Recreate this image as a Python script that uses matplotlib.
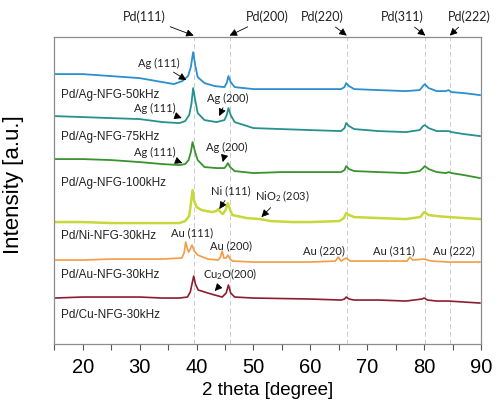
import matplotlib
matplotlib.use("Agg")
import matplotlib.pyplot as plt

# XRD patterns (2 theta in degree, offset intensity in a.u.)
ag50_x = [15, 20, 25, 30, 34, 36, 37.5, 38.5, 39.0, 39.4, 39.8, 40.2, 41.4, 43.2, 44.9, 45.3, 45.6,
          46.0, 46.7, 50, 55, 60, 65.4, 66.0, 66.3, 66.8, 67.7, 72, 76.8, 79.2, 79.8, 80.1, 80.8,
          82.2, 83.8, 84.3, 84.8, 87, 89.8]
ag50_y = [270, 270, 268, 266, 262, 260, 263, 268, 277, 292, 278, 267, 261, 258, 257, 261, 268,
          262, 257, 255, 255, 255, 255, 257, 261, 258, 255, 254, 253, 254, 258, 260, 256,
          253, 253, 254, 252, 251, 249]

ag75_x = [15, 20, 25, 30, 34, 37, 38.0, 38.7, 39.1, 39.4, 39.8, 40.2, 41.4, 43.5, 44.9, 45.3, 45.6,
          46.0, 46.7, 50, 55, 60, 65.4, 66.0, 66.3, 66.8, 67.7, 72, 76.8, 79.2, 79.8, 80.1, 80.8,
          82.2, 83.8, 84.3, 84.8, 87, 89.8]
ag75_y = [228, 227, 226, 225, 222, 221, 223, 229, 240, 256, 243, 231, 224, 222, 224, 229, 236,
          229, 222, 216, 215, 214, 213, 216, 221, 218, 215, 213, 212, 214, 218, 219, 216,
          213, 213, 213, 212, 210, 208]

ag100_x = [15, 20, 25, 30, 34, 37, 38.0, 38.6, 39.0, 39.3, 39.7, 40.2, 41.4, 43.5, 44.9, 45.2, 45.5,
           45.9, 46.7, 50, 55, 60, 65.4, 66.0, 66.3, 66.8, 67.7, 72, 76.8, 79.2, 79.8, 80.1, 80.8,
           82.2, 83.8, 84.3, 84.8, 87, 89.8]
ag100_y = [185, 185, 184, 182, 180, 179, 180, 184, 192, 202, 193, 184, 177, 176, 176, 178, 181,
           177, 173, 171, 172, 172, 172, 174, 178, 175, 173, 172, 171, 173, 176, 178, 175,
           172, 171, 172, 171, 169, 166]

ni_x = [15, 20, 25, 30, 34, 37, 38.0, 38.7, 39.0, 39.3, 39.6, 40.0, 40.9, 42.7, 43.5, 43.8, 44.2,
        44.6, 45.1, 45.5, 45.9, 46.3, 48.8, 51.1, 53, 56.9, 60, 65.1, 65.9, 66.3, 66.8, 67.7, 72,
        76.8, 79.3, 80.0, 80.8, 82.2, 84.3, 87, 89.8]
ni_y = [122, 122, 121, 121, 121, 121, 123, 128, 140, 154, 143, 137, 134, 132, 133, 135, 132,
        130, 134, 141, 134, 129, 126, 125, 123, 122, 122, 123, 126, 131, 129, 127, 126,
        125, 127, 132, 129, 128, 127, 126, 125]

au_x = [15, 20, 25, 30, 34, 37.4, 37.8, 38.1, 38.4, 38.6, 38.9, 39.2, 39.6, 40.2, 42.0, 43.8, 44.2,
        44.5, 44.8, 45.2, 45.5, 45.9, 46.3, 50, 55, 60, 64.4, 64.9, 65.4, 66.3, 67.0, 72, 77.0,
        77.5, 78.0, 80.0, 81.2, 84.3, 87, 89.8]
au_y = [84, 84, 85, 85, 85, 86, 91, 102, 95, 92, 95, 99, 93, 89, 85, 84, 87,
        93, 86, 86, 89, 85, 83, 82, 82, 82, 83, 87, 83, 86, 83, 83, 83,
        87, 84, 85, 83, 82, 82, 82]

cu_x = [15, 20, 25, 30, 34, 37, 38.4, 38.9, 39.2, 39.5, 39.8, 40.3, 42.0, 43.2, 44.5, 45.2, 45.6,
        46.0, 46.7, 50, 60, 65.4, 66.0, 66.3, 66.8, 67.7, 72, 76.8, 79.6, 80.0, 80.6, 82.2, 84.3,
        87, 89.8]
cu_y = [46, 47, 47, 47, 46, 46, 47, 52, 60, 68, 60, 54, 51, 49, 47, 51, 59,
        51, 47, 46, 45, 44, 45, 47, 45, 44, 44, 43, 45, 46, 44, 43, 43,
        42, 41]

series = [
    (ag50_x, ag50_y, "#2b8fce", 1.3),
    (ag75_x, ag75_y, "#26918f", 1.3),
    (ag100_x, ag100_y, "#3a922f", 1.3),
    (ni_x, ni_y, "#c6d83a", 1.8),
    (au_x, au_y, "#f29c45", 1.2),
    (cu_x, cu_y, "#8c1d2f", 1.2),
]

sample_labels = ["Pd/Ag-NFG-50kHz", "Pd/Ag-NFG-75kHz", "Pd/Ag-NFG-100kHz",
                 "Pd/Ni-NFG-30kHz", "Pd/Au-NFG-30kHz", "Pd/Cu-NFG-30kHz"]
sample_label_y = [249, 207, 161, 108, 69, 29]

pd_peaks = [39.5, 45.8, 66.4, 80.2, 84.5]
pd_labels = ["Pd(111)", "Pd(200)", "Pd(220)", "Pd(311)", "Pd(222)"]
pd_text_x = [30.9, 52.5, 62.1, 76.1, 87.9]

# (text, text xy, arrow tip xy or None)
phase_notes = [
    ("Ag (111)", (33.4, 281), (38.2, 264)),
    ("Ag (111)", (32.6, 236), (37.4, 226)),
    ("Ag (200)", (45.4, 246), (44.0, 228)),
    ("Ag (111)", (32.6, 192), (37.5, 181)),
    ("Ag (200)", (45.3, 197), (44.6, 182)),
    ("Ni (111)", (46.1, 153), (44.0, 135)),
    ("NiO$_2$ (203)", (55.0, 148), (51.4, 127)),
    ("Au (111)", (39.3, 111), None),
    ("Au (200)", (46.1, 98), None),
    ("Au (220)", (62.4, 93), None),
    ("Au (311)", (74.7, 93), None),
    ("Au (222)", (85.3, 93), None),
    ("Cu$_2$O(200)", (45.9, 70), (43.2, 53)),
]

ANNO_FONT = "Lato"
LABEL_FONT = "Liberation Sans"
plt.rcParams["mathtext.fontset"] = "custom"
plt.rcParams["mathtext.rm"] = ANNO_FONT

fig = plt.figure(figsize=(4.98, 4.17), dpi=100)
ax = fig.add_axes([0.109, 0.175, 0.857, 0.736])

for xp in pd_peaks:
    ax.axvline(xp, color="#cccccc", lw=0.7, ls=(0, (5, 3)), zorder=1)

for x, y, c, lw in series:
    ax.plot(x, y, color=c, lw=lw, zorder=2)

for lab, ly in zip(sample_labels, sample_label_y):
    ax.text(16.2, ly, lab, fontsize=8.5, family=LABEL_FONT, color="#222222",
            va="center", ha="left")

arrow = dict(arrowstyle="-|>", color="black", lw=0.6, mutation_scale=11,
             shrinkA=1, shrinkB=0)
for xp, lab, tx in zip(pd_peaks, pd_labels, pd_text_x):
    ax.annotate(lab, xy=(xp, 1.005), xycoords=("data", "axes fraction"),
                xytext=(tx, 1.065), textcoords=("data", "axes fraction"),
                fontsize=9, family=ANNO_FONT, color="#222222", ha="center", va="center",
                arrowprops=arrow, annotation_clip=False)

for lab, txy, tip in phase_notes:
    if tip is None:
        ax.text(txy[0], txy[1], lab, fontsize=8, family=ANNO_FONT, color="#222222",
                ha="center", va="center")
    else:
        ax.annotate(lab, xy=tip, xytext=txy, fontsize=8, family=ANNO_FONT,
                    color="#222222", ha="center", va="center", arrowprops=arrow)

ax.set_xlim(15, 90)
ax.set_ylim(0, 307)
ax.set_xticks(range(20, 91, 10))
ax.set_xticks(range(15, 90, 10), minor=True)
ax.tick_params(axis="x", which="both", direction="out", length=4, width=0.8,
               color="#555555", labelsize=14.5, pad=6)
ax.set_yticks([])
for lab in ax.get_xticklabels():
    lab.set_family(LABEL_FONT)
for s in ax.spines.values():
    s.set_color("#8c8c8c")
    s.set_linewidth(0.9)

ax.set_xlabel("2 theta [degree]", fontsize=13.5, family=LABEL_FONT, labelpad=4)
ax.set_ylabel("Intensity [a.u.]", fontsize=16, family=LABEL_FONT)
ax.yaxis.set_label_coords(-0.072, 0.52)

fig.savefig("out.png", dpi=100)
